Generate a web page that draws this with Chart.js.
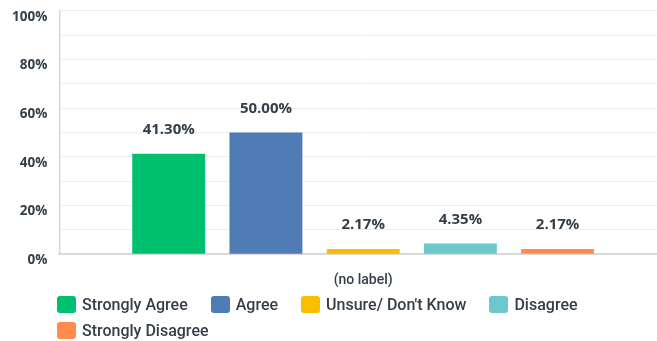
<!DOCTYPE html>
<html>
<head>
<meta charset="utf-8">
<script src="https://cdn.jsdelivr.net/npm/chart.js@4/dist/chart.umd.min.js"></script>
<style>
  html, body { margin: 0; padding: 0; background: #ffffff; overflow: hidden; }
  #wrap { position: relative; width: 667px; height: 341px; }
  #chart { position: absolute; left: 0; top: 0; }
  #legend {
    position: absolute; left: 57px; top: 294px; width: 595px;
    display: flex; flex-wrap: wrap; column-gap: 23px; row-gap: 6px;
    font-family: Roboto, "Noto Sans", sans-serif; font-size: 16px; font-weight: 500;
    color: #333e48;
  }
  .item { display: flex; align-items: center; height: 20px; white-space: nowrap; }
  .swatch { width: 19px; height: 17px; border-radius: 3px; margin-right: 6px; }
</style>
</head>
<body>
<div id="wrap">
  <canvas id="chart" width="667" height="341"></canvas>
  <div id="legend"></div>
</div>
<script>
// Survey answer shares for the single question
const categories = ['(no label)'];
const seriesNames = ['Strongly Agree', 'Agree', 'Unsure/ Don\'t Know', 'Disagree', 'Strongly Disagree'];
const seriesValues = [41.30, 50.00, 2.17, 4.35, 2.17];
const seriesColors = ['#00bf6f', '#507cb6', '#f9be00', '#6bc8cd', '#ff8b4f'];
const yTicks = [0, 20, 40, 60, 80, 100];

const TEXT = '#333e48';
const NUM_FONT = '"Open Sans", Roboto, sans-serif';

const datasets = seriesNames.map((name, i) => ({
  label: name,
  data: [seriesValues[i]],
  backgroundColor: seriesColors[i],
  categoryPercentage: 0.8,
  barPercentage: 0.75
}));

// Percentage labels above each bar
const valueLabels = {
  id: 'valueLabels',
  afterDatasetsDraw(chart) {
    const ctx = chart.ctx;
    ctx.save();
    ctx.font = 'bold 15px ' + NUM_FONT;
    ctx.fillStyle = TEXT;
    ctx.textAlign = 'center';
    ctx.textBaseline = 'middle';
    chart.data.datasets.forEach((ds, i) => {
      const meta = chart.getDatasetMeta(i);
      meta.data.forEach((bar, j) => {
        ctx.fillText(ds.data[j].toFixed(2) + '%', bar.x, bar.y - 24);
      });
    });
    ctx.restore();
  }
};

new Chart(document.getElementById('chart'), {
  type: 'bar',
  data: { labels: categories, datasets },
  options: {
    responsive: false,
    animation: false,
    layout: { padding: { left: 12, top: 10.7, right: 0, bottom: 42 } },
    plugins: {
      legend: { display: false },
      tooltip: { enabled: false }
    },
    scales: {
      x: {
        grid: { display: false },
        border: { display: true, color: '#d9d9d9', width: 2 },
        ticks: {
          padding: 10,
          color: TEXT,
          font: { family: 'Roboto, "Noto Sans", sans-serif', size: 14, weight: '500' }
        }
      },
      y: {
        min: 0,
        max: 100,
        grid: { color: '#ededed', lineWidth: 1, drawTicks: true, tickLength: 12, tickColor: 'rgba(0,0,0,0)' },
        border: { display: true, color: '#d9d9d9', width: 1.5 },
        ticks: {
          stepSize: 10,
          padding: 0,
          labelOffset: 6,
          color: TEXT,
          font: { family: NUM_FONT, size: 13.5, weight: 'bold' },
          callback: (v) => yTicks.includes(v) ? v + '%' : ''
        }
      }
    }
  },
  plugins: [valueLabels]
});

// Legend built from the same series arrays
const legend = document.getElementById('legend');
seriesNames.forEach((name, i) => {
  const item = document.createElement('div');
  item.className = 'item';
  const sw = document.createElement('span');
  sw.className = 'swatch';
  sw.style.background = seriesColors[i];
  const txt = document.createElement('span');
  txt.textContent = name;
  item.appendChild(sw);
  item.appendChild(txt);
  legend.appendChild(item);
});
</script>
</body>
</html>
